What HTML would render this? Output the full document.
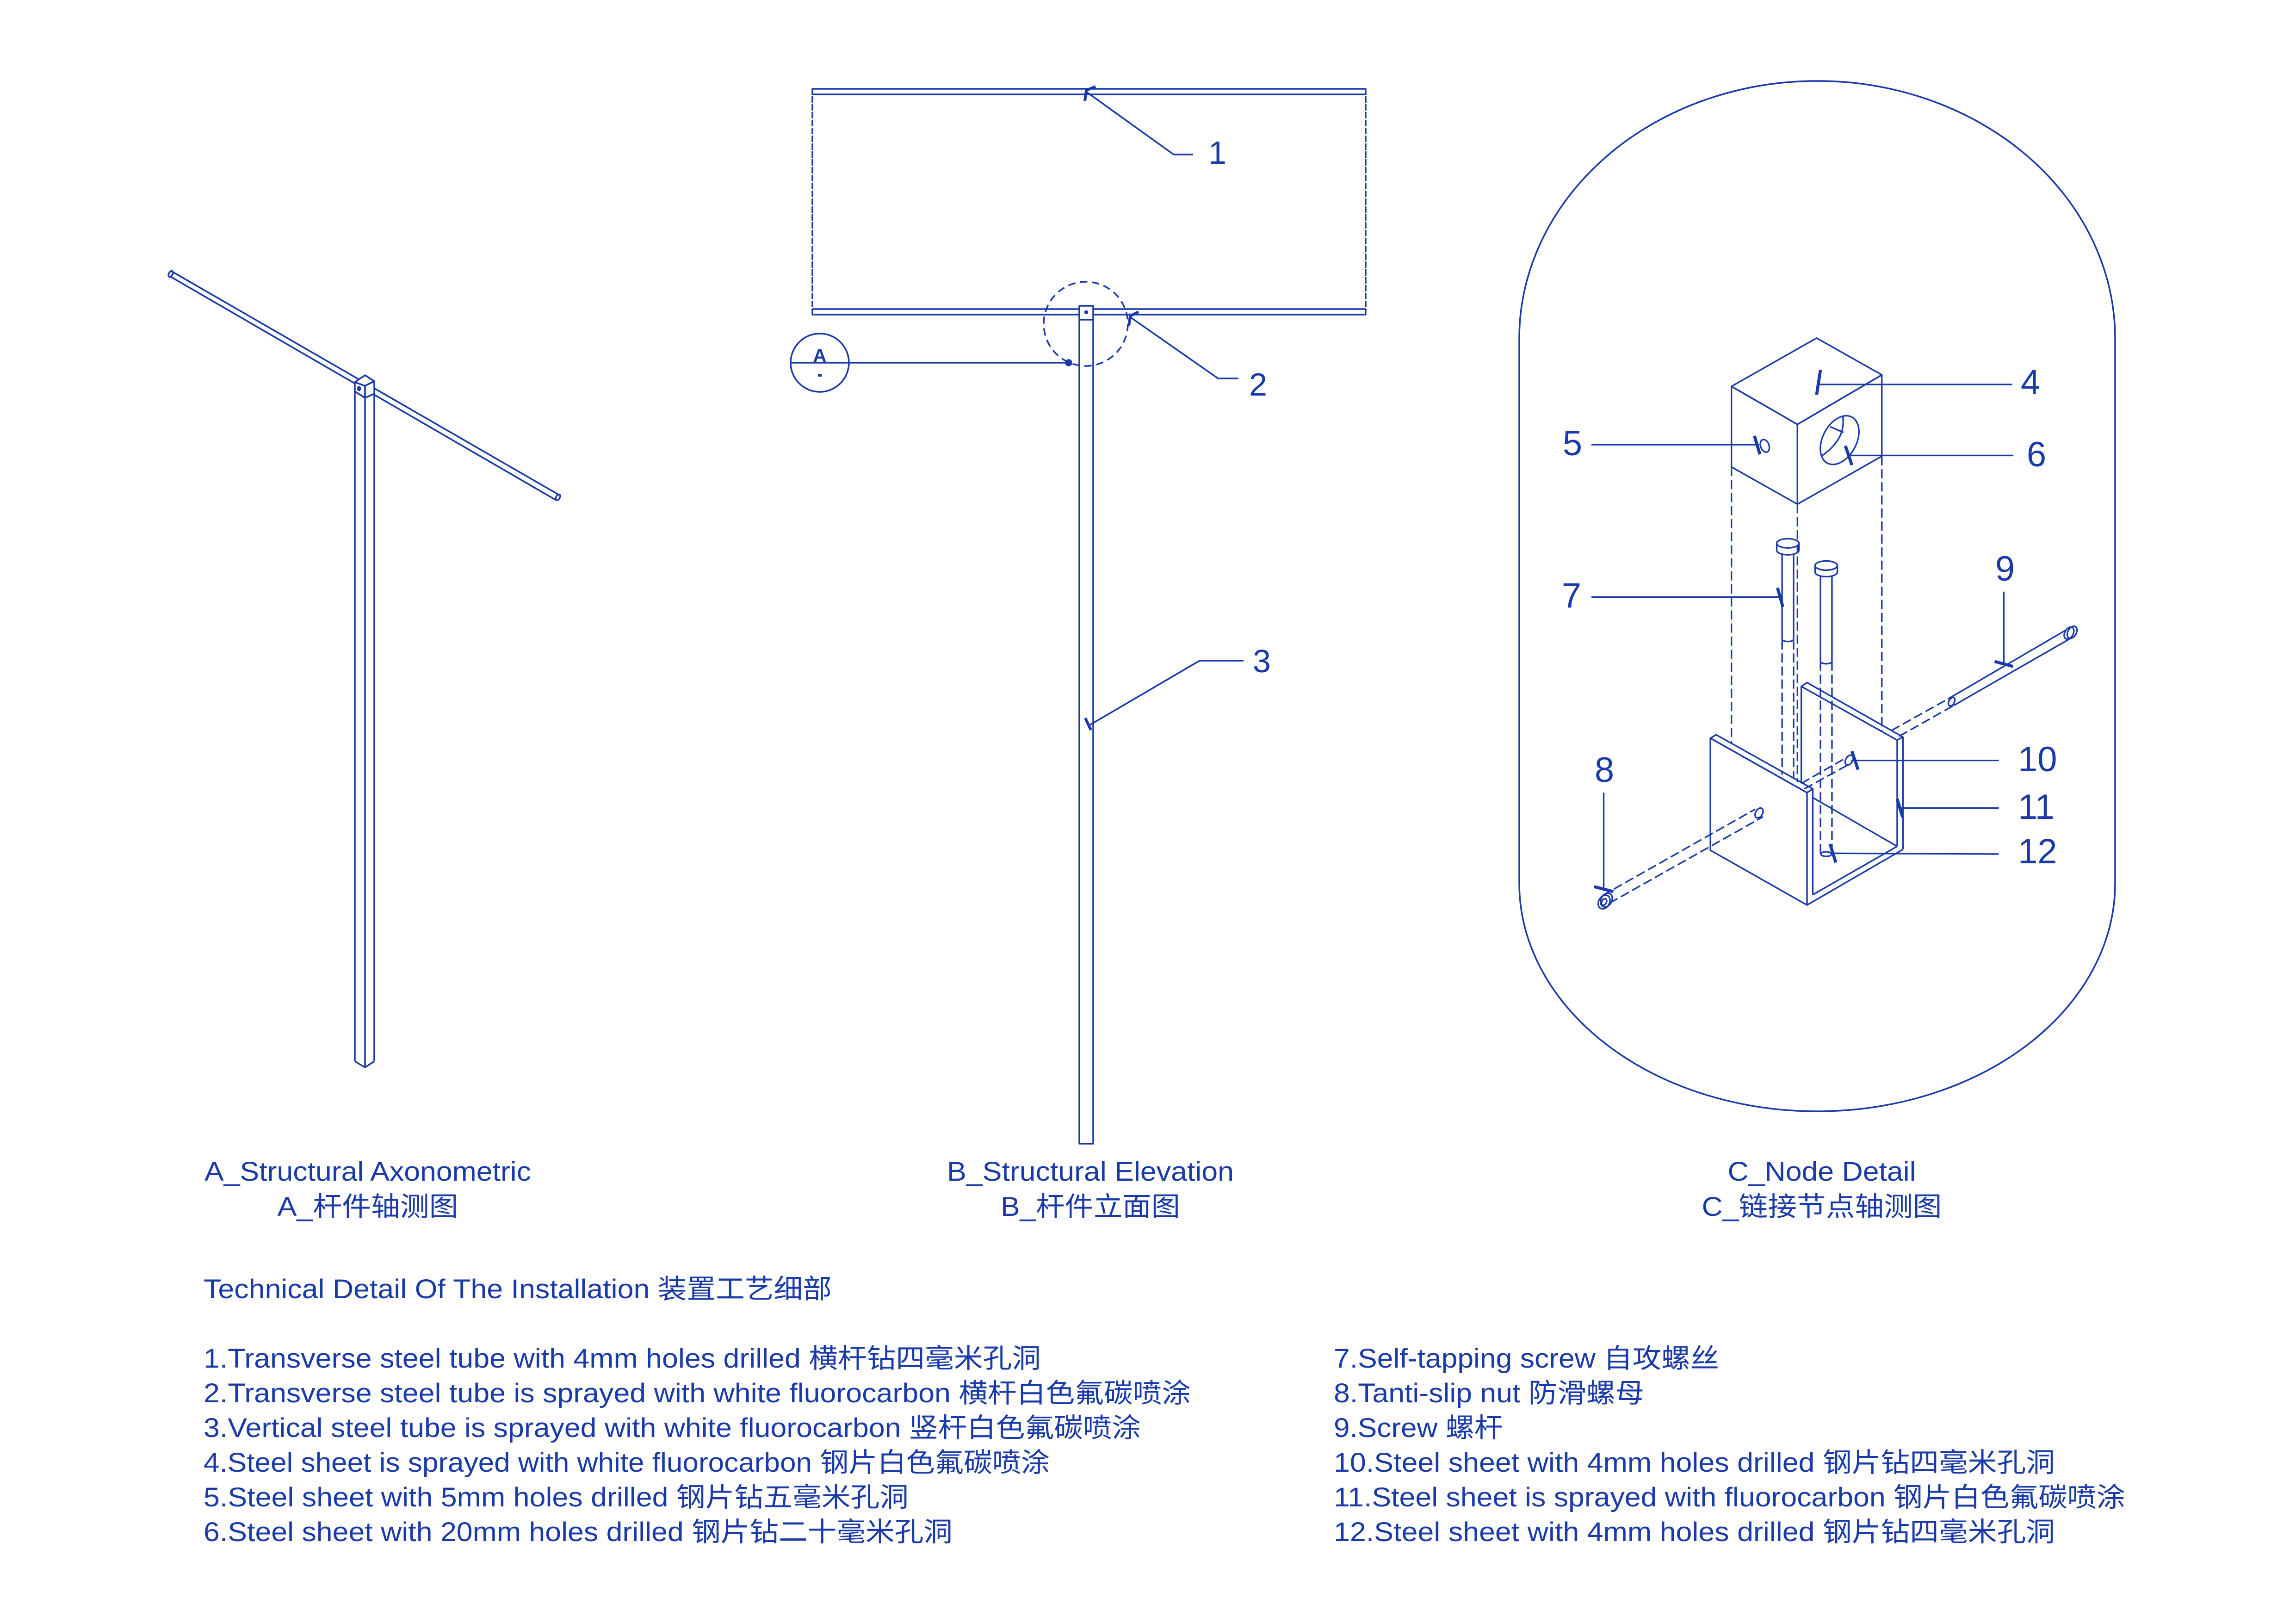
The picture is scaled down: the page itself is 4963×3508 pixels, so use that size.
<!DOCTYPE html>
<html><head><meta charset="utf-8"><style>
html,body{margin:0;padding:0;background:#fff}
svg{display:block}
text{font-family:"Liberation Sans","Noto Sans CJK SC",sans-serif;fill:#1a3aa8}
</style></head><body>
<svg width="4963" height="3508" viewBox="0 0 4963 3508" xmlns="http://www.w3.org/2000/svg">
<g fill="none" stroke="#1a3aa8" stroke-width="3.5" stroke-linejoin="round">
<!-- A axonometric -->
<line x1="372" y1="587" x2="1209" y2="1070"/>
<line x1="367" y1="597" x2="1202" y2="1081"/>
<ellipse cx="369" cy="592" rx="4" ry="7" transform="rotate(30 369 592)"/>
<ellipse cx="1206" cy="1075" rx="4" ry="7" transform="rotate(30 1206 1075)"/>
<polygon points="789,811 809,824 789,834 767,826" fill="#fff"/>
<polygon points="767,826 789,834 789,860 767,846" fill="#fff"/>
<polygon points="789,834 809,824 809,851 789,860" fill="#fff"/>
<ellipse cx="776" cy="840" rx="2.5" ry="4" fill="#1a3aa8"/>
<line x1="767" y1="846" x2="767" y2="2294"/>
<line x1="789" y1="860" x2="789" y2="2307"/>
<line x1="809" y1="851" x2="809" y2="2294"/>
<polyline points="767,2294 789,2307 809,2294"/>

<!-- B elevation -->
<line x1="1756" y1="191" x2="1756" y2="680" stroke-dasharray="14 3"/>
<line x1="2952" y1="191" x2="2952" y2="680" stroke-dasharray="14 3"/>
<line x1="1756" y1="192" x2="2952" y2="192"/>
<line x1="1756" y1="204" x2="2952" y2="204"/>
<line x1="1756" y1="668" x2="2952" y2="668"/>
<line x1="1756" y1="680" x2="2952" y2="680"/>
<rect x="2333" y="661" width="30" height="1811" fill="#fff"/>
<line x1="2333" y1="691" x2="2363" y2="691"/>
<circle cx="2348" cy="675" r="2.5" fill="#1a3aa8"/>
<circle cx="2347" cy="700" r="91" stroke-dasharray="16 10"/>
<circle cx="1772" cy="784" r="63"/>
<line x1="1708" y1="784" x2="2310" y2="784"/>
<circle cx="2310" cy="784" r="6" fill="#1a3aa8"/>
<rect x="1768" y="808" width="8" height="6" fill="#1a3aa8" stroke="none"/>
<polyline points="2349,199 2537,334 2579,334"/>
<line x1="2345" y1="218" x2="2349" y2="190" stroke-width="6"/>
<line x1="2346" y1="196" x2="2368" y2="187" stroke-width="6"/>
<polyline points="2444,686 2633,818 2677,818"/>
<line x1="2440" y1="704" x2="2444" y2="678" stroke-width="6"/>
<line x1="2441" y1="684" x2="2461" y2="674" stroke-width="6"/>
<polyline points="2354,1568 2593,1428 2688,1428"/>
<line x1="2346" y1="1552" x2="2358" y2="1578" stroke-width="6"/>

<!-- C oval -->
<path d="M 3284 1909 L 3284 732 A 644 557 0 0 1 4572 732 L 4572 1909 A 644 493 0 0 1 3284 1909 Z"/>

<!-- C node detail (zoom coords) -->
<g transform="translate(3280,700) scale(0.8292)" stroke-width="4">
 <polygon points="558,163 780,37 950,133 730,262"/>
 <polygon points="558,163 730,262 730,470 558,373"/>
 <polygon points="730,262 950,133 950,345 730,470"/>
 <ellipse cx="840" cy="303" rx="44" ry="68" transform="rotate(28 840 303)"/>
 <path d="M 848 240 Q 858 300 792 345"/>
 <line x1="815" y1="268" x2="850" y2="283"/>
 <ellipse cx="645" cy="318" rx="11" ry="17" transform="rotate(-20 645 318)"/>
 <g stroke-dasharray="24 10">
  <line x1="558" y1="373" x2="558" y2="1095"/>
  <line x1="730" y1="470" x2="730" y2="1195"/>
  <line x1="950" y1="345" x2="950" y2="1062"/>
  <line x1="690" y1="825" x2="690" y2="1175"/>
  <line x1="720" y1="825" x2="720" y2="1185"/>
  <line x1="790" y1="880" x2="790" y2="1380"/>
  <line x1="820" y1="880" x2="820" y2="1380"/>
  <line x1="975" y1="1060" x2="1122" y2="978"/>
  <line x1="995" y1="1075" x2="1137" y2="995"/>
  <line x1="740" y1="1198" x2="862" y2="1128"/>
  <line x1="748" y1="1212" x2="870" y2="1145"/>
  <line x1="222" y1="1490" x2="620" y2="1265"/>
  <line x1="240" y1="1510" x2="640" y2="1285"/>
 </g>
 <line x1="676" y1="572" x2="676" y2="590"/><line x1="734" y1="572" x2="734" y2="590"/>
 <path d="M 676 590 A 29 12 0 0 0 734 590"/>
 <ellipse cx="705" cy="572" rx="29" ry="12" fill="#fff"/>
 <line x1="690" y1="600" x2="690" y2="822"/><line x1="720" y1="600" x2="720" y2="822"/>
 <path d="M 690 822 A 15 6 0 0 0 720 822"/>
 <line x1="776" y1="630" x2="776" y2="647"/><line x1="834" y1="630" x2="834" y2="647"/>
 <path d="M 776 647 A 29 12 0 0 0 834 647"/>
 <ellipse cx="805" cy="630" rx="29" ry="12" fill="#fff"/>
 <line x1="790" y1="657" x2="790" y2="880"/><line x1="820" y1="657" x2="820" y2="880"/>
 <path d="M 790 880 A 15 6 0 0 0 820 880"/>
 <ellipse cx="805" cy="1382" rx="14" ry="6"/>
 <polyline points="740,1195 740,945 755,935 1005,1077 1005,1370"/>
 <polyline points="740,945 990,1085 1005,1077"/>
 <line x1="990" y1="1085" x2="990" y2="1362"/>
 <line x1="770" y1="1235" x2="990" y2="1362"/>
 <line x1="990" y1="1362" x2="770" y2="1488"/>
 <line x1="1005" y1="1370" x2="755" y2="1515"/>
 <line x1="770" y1="1212" x2="770" y2="1488"/>
 <polygon points="503,1080 755,1222 755,1515 503,1372"/>
 <polygon points="503,1080 518,1071 770,1212 755,1222"/>
 <ellipse cx="630" cy="1275" rx="9" ry="14" transform="rotate(30 630 1275)"/>
 <ellipse cx="865" cy="1137" rx="9" ry="14" transform="rotate(30 865 1137)"/>
 <line x1="1122" y1="978" x2="1432" y2="797"/>
 <line x1="1137" y1="995" x2="1445" y2="818"/>
 <ellipse cx="1132" cy="985" rx="7" ry="12" transform="rotate(30 1132 985)"/>
 <ellipse cx="1438" cy="806" rx="11" ry="17" transform="rotate(30 1438 806)"/>
 <ellipse cx="1446" cy="804" rx="11" ry="17" transform="rotate(30 1446 804)"/>
 <ellipse cx="226" cy="1507" rx="14" ry="19" transform="rotate(30 226 1507)"/>
 <ellipse cx="232" cy="1502" rx="14" ry="19" transform="rotate(30 232 1502)"/>
 <ellipse cx="226" cy="1507" rx="6" ry="9" transform="rotate(30 226 1507)"/>
 <line x1="780" y1="158" x2="1290" y2="158"/>
 <line x1="790" y1="120" x2="780" y2="185" stroke-width="8"/>
 <line x1="193" y1="315" x2="630" y2="315"/>
 <line x1="618" y1="292" x2="632" y2="340" stroke-width="8"/>
 <line x1="865" y1="343" x2="1293" y2="343"/>
 <line x1="855" y1="318" x2="872" y2="368" stroke-width="8"/>
 <line x1="193" y1="712" x2="690" y2="712"/>
 <line x1="678" y1="688" x2="692" y2="738" stroke-width="8"/>
 <line x1="1268" y1="698" x2="1268" y2="890"/>
 <line x1="1244" y1="880" x2="1292" y2="893" stroke-width="8"/>
 <line x1="225" y1="1222" x2="225" y2="1478"/>
 <line x1="200" y1="1467" x2="250" y2="1480" stroke-width="8"/>
 <line x1="870" y1="1138" x2="1255" y2="1138"/>
 <line x1="872" y1="1114" x2="888" y2="1162" stroke-width="8"/>
 <line x1="995" y1="1262" x2="1255" y2="1262"/>
 <line x1="990" y1="1238" x2="1004" y2="1286" stroke-width="8"/>
 <line x1="815" y1="1380" x2="1255" y2="1382"/>
 <line x1="815" y1="1356" x2="830" y2="1404" stroke-width="8"/>
</g>
</g>

<text x="2612" y="354" font-size="70">1</text>
<text x="2700" y="855" font-size="70">2</text>
<text x="2708" y="1453" font-size="70">3</text>
<text x="1772" y="782" font-size="40" font-weight="bold" text-anchor="middle">A</text>
<g font-size="76">
<text x="4389" y="852" text-anchor="middle">4</text>
<text x="3399" y="984" text-anchor="middle">5</text>
<text x="4402" y="1008" text-anchor="middle">6</text>
<text x="3397" y="1313" text-anchor="middle">7</text>
<text x="4334" y="1255" text-anchor="middle">9</text>
<text x="3468" y="1690" text-anchor="middle">8</text>
<text x="4362" y="1667">10</text>
<text x="4362" y="1770">11</text>
<text x="4362" y="1866">12</text>
</g>
<g font-size="58" text-anchor="middle">
<text x="795" y="2552" textLength="706" lengthAdjust="spacingAndGlyphs">A_Structural Axonometric</text>
<text x="795" y="2628" textLength="391" lengthAdjust="spacingAndGlyphs">A_杆件轴测图</text>
<text x="2357" y="2552" textLength="620" lengthAdjust="spacingAndGlyphs">B_Structural Elevation</text>
<text x="2357" y="2628" textLength="388" lengthAdjust="spacingAndGlyphs">B_杆件立面图</text>
<text x="3938" y="2552" textLength="407" lengthAdjust="spacingAndGlyphs">C_Node Detail</text>
<text x="3938" y="2628" textLength="519" lengthAdjust="spacingAndGlyphs">C_链接节点轴测图</text>
</g>
<g font-size="58">
<text x="440" y="2806" textLength="1358" lengthAdjust="spacingAndGlyphs">Technical Detail Of The Installation 装置工艺细部</text>
<text x="440" y="2956" textLength="1810" lengthAdjust="spacingAndGlyphs">1.Transverse steel tube with 4mm holes drilled 横杆钻四毫米孔洞</text>
<text x="440" y="3031" textLength="2134" lengthAdjust="spacingAndGlyphs">2.Transverse steel tube is sprayed with white fluorocarbon 横杆白色氟碳喷涂</text>
<text x="440" y="3106" textLength="2026" lengthAdjust="spacingAndGlyphs">3.Vertical steel tube is sprayed with white fluorocarbon 竖杆白色氟碳喷涂</text>
<text x="440" y="3181" textLength="1829" lengthAdjust="spacingAndGlyphs">4.Steel sheet is sprayed with white fluorocarbon 钢片白色氟碳喷涂</text>
<text x="440" y="3256" textLength="1524" lengthAdjust="spacingAndGlyphs">5.Steel sheet with 5mm holes drilled 钢片钻五毫米孔洞</text>
<text x="440" y="3331" textLength="1619" lengthAdjust="spacingAndGlyphs">6.Steel sheet with 20mm holes drilled 钢片钻二十毫米孔洞</text>
<text x="2883" y="2956" textLength="833" lengthAdjust="spacingAndGlyphs">7.Self-tapping screw 自攻螺丝</text>
<text x="2883" y="3031" textLength="671" lengthAdjust="spacingAndGlyphs">8.Tanti-slip nut 防滑螺母</text>
<text x="2883" y="3106" textLength="366" lengthAdjust="spacingAndGlyphs">9.Screw 螺杆</text>
<text x="2883" y="3181" textLength="1559" lengthAdjust="spacingAndGlyphs">10.Steel sheet with 4mm holes drilled 钢片钻四毫米孔洞</text>
<text x="2883" y="3256" textLength="1711" lengthAdjust="spacingAndGlyphs">11.Steel sheet is sprayed with fluorocarbon 钢片白色氟碳喷涂</text>
<text x="2883" y="3331" textLength="1559" lengthAdjust="spacingAndGlyphs">12.Steel sheet with 4mm holes drilled 钢片钻四毫米孔洞</text>
</g>
</svg>
</body></html>
